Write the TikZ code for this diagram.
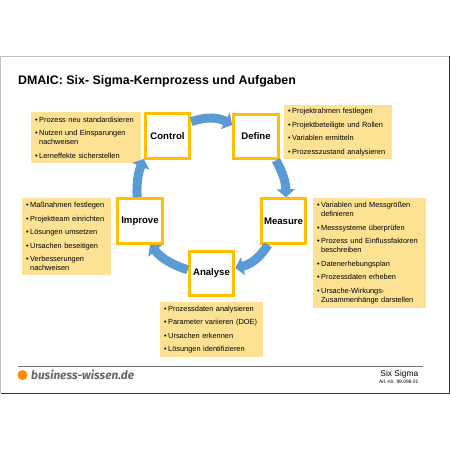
\documentclass[tikz,border=0pt]{standalone}
\usepackage{fontspec}
\setmainfont{Liberation Sans}
\newfontfamily\logofont{Fira Sans}
\usetikzlibrary{arrows.meta}
\definecolor{phaseyellow}{HTML}{FFC000}
\definecolor{notefill}{HTML}{FEE294}
\definecolor{flowblue}{HTML}{5B9BD5}
\newcommand{\punkt}{\makebox[4pt][l]{\textbullet}}
\newcommand{\weiter}{\hspace*{4pt}}

\tikzset{
  phasebox/.style={
    draw=phaseyellow, fill=white, line width=3pt,
    minimum width=44.5pt, minimum height=44.5pt,
    align=center, font=\bfseries\fontsize{9.6}{11}\selectfont,
    inner sep=0pt
  },
  notebox/.style={
    fill=notefill, anchor=north west,
    align=left, font=\fontsize{7.4}{9}\selectfont,
    inner xsep=4pt, inner ysep=0pt
  },
  flowarrow/.style={
    draw=flowblue, line width=9pt,
    -{Triangle[length=8pt,width=18pt]}
  },
}

\begin{document}
\begin{tikzpicture}[x=1pt,y=1pt]
\useasboundingbox (0,0) rectangle (450,-450);

%% Frame
\draw[line width=1pt, black!25] (0.5,-393) -- (0.5,-56) -- (449,-56);
\draw[line width=1pt, black!80] (449,-56) -- (449,-393) -- (0.5,-393);

%% Title
\node[anchor=west, inner sep=0pt, font=\bfseries\fontsize{12.4}{14}\selectfont] (title) at (18,-81)
  {DMAIC: Six- Sigma-Kernprozess und Aufgaben};

%% Phases
\node[phasebox] (control) at (167.5,-136) {Control};
\node[phasebox] (define)  at (256,-136.5) {Define};
\node[phasebox] (measure) at (283.5,-221) {Measure};
\node[phasebox] (analyse) at (211.5,-273.5) {Analyse};
\node[phasebox] (improve) at (140,-221) {Improve};

%% Notes
\node[notebox, text width=102pt, minimum height=51pt] (controlnote) at (31,-112)
  {\punkt Prozess neu standardisieren\\[4.5pt]
   \punkt Nutzen und Einsparungen\\ \weiter nachweisen\\[4.5pt]
   \punkt Lerneffekte sicherstellen};

\node[notebox, text width=100pt, minimum height=54pt] (definenote) at (284,-105)
  {\punkt Projektrahmen festlegen\\[4.5pt]
   \punkt Projektbeteiligte und Rollen\\[4.5pt]
   \punkt Variablen ermitteln\\[4.5pt]
   \punkt Prozesszustand analysieren};

\node[notebox, text width=105pt, minimum height=110pt] (measurenote) at (313,-198)
  {\punkt Variablen und Messgrößen\\ \weiter definieren\\[4.5pt]
   \punkt Messsysteme überprüfen\\[4.5pt]
   \punkt Prozess und Einflussfaktoren\\ \weiter beschreiben\\[4.5pt]
   \punkt Datenerhebungsplan\\[4.5pt]
   \punkt Prozessdaten erheben\\[4.5pt]
   \punkt Ursache-Wirkungs-\\ \weiter Zusammenhänge darstellen};

\node[notebox, text width=81pt, minimum height=77pt] (improvenote) at (22,-198)
  {\punkt Maßnahmen festlegen\\[4.5pt]
   \punkt Projektteam einrichten\\[4.5pt]
   \punkt Lösungen umsetzen\\[4.5pt]
   \punkt Ursachen beseitigen\\[4.5pt]
   \punkt Verbesserungen\\ \weiter nachweisen};

\node[notebox, text width=95pt, minimum height=55pt] (analysenote) at (160,-302)
  {\punkt Prozessdaten analysieren\\[4.5pt]
   \punkt Parameter variieren (DOE)\\[4.5pt]
   \punkt Ursachen erkennen\\[4.5pt]
   \punkt Lösungen identifizieren};

%% Cycle
\draw[flowarrow] (control.31) to[bend left=24] (define.154);
\draw[flowarrow] (define.-50) to[bend left=14] (measure.84);
\draw[flowarrow] (measure.-123) to[bend left=22] (analyse.13);
\draw[flowarrow] (analyse.171) to[bend left=16] (improve.-67);
\draw[flowarrow] (improve.97) to[bend left=12] (control.-136);

%% Footer
\draw[line width=0.7pt, black!55] (17.5,-366) -- (423,-366);
\node[circle, fill=orange!90!yellow, minimum size=10pt, inner sep=0pt] (logodot) at (22.5,-375) {};
\node[anchor=west, inner sep=0pt, text=black!60, font=\logofont\itshape\bfseries\fontsize{11.8}{13}\selectfont] (logo) at (31,-375) {business-wissen.de};
\node[anchor=east, inner sep=0pt, font=\fontsize{8.4}{10}\selectfont] (topic) at (418.5,-374) {Six Sigma};
\node[anchor=east, inner sep=0pt, font=\fontsize{4.9}{5}\selectfont] (artnr) at (418.5,-382) {Art.-Nr. 99.098.01};

\end{tikzpicture}
\end{document}
